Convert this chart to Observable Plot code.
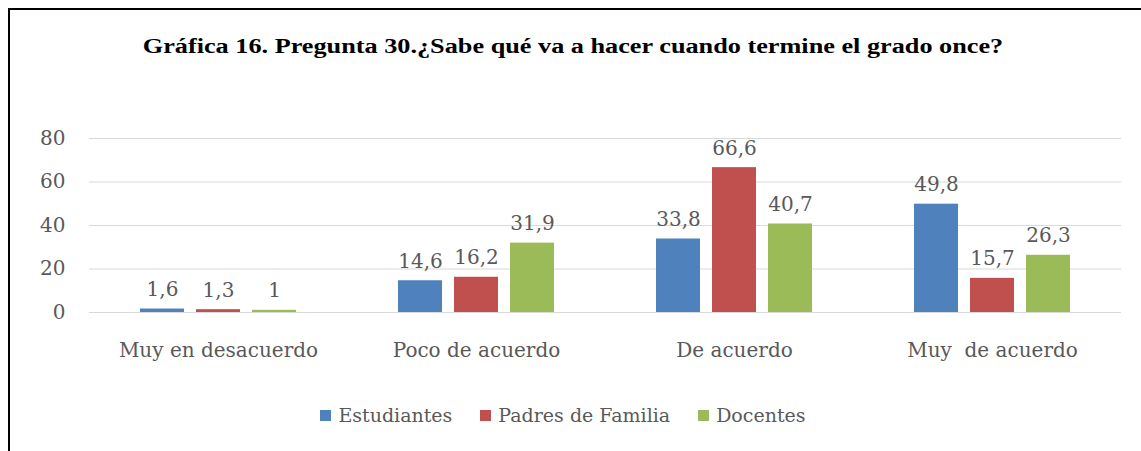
<!DOCTYPE html>
<html>
<head>
<meta charset="utf-8">
<script src="https://cdn.jsdelivr.net/npm/d3@7"></script>
<script src="https://cdn.jsdelivr.net/npm/@observablehq/plot@0.6"></script>
<style>
  html, body { margin: 0; padding: 0; background: #fff; }
  #wrap { position: relative; width: 1141px; height: 451px; overflow: hidden; background: #fff; }
  #frame { position: absolute; left: 8px; top: 8px; right: -10px; bottom: -10px;
           border-top: 2.5px solid #000; border-left: 2.5px solid #000; }
  #title { position: absolute; left: 0; width: 1146px; top: 35px; text-align: center;
           font-family: "Liberation Serif", serif; font-weight: bold; font-size: 20.5px; color: #000;
           transform: scaleX(1.28); transform-origin: 573px 0; }
  #chart { position: absolute; left: 0; top: 0; }
  #legend { position: absolute; left: 0; width: 1126px; top: 404px; display: flex; justify-content: center;
            font-family: "DejaVu Serif", serif; font-size: 19px; color: #595959; }
  .item { display: flex; align-items: center; margin: 0 14px; }
  .sw { width: 11px; height: 11px; margin-right: 7px; }
  svg text { white-space: pre; }
</style>
</head>
<body>
<div id="wrap">
  <div id="frame"></div>
  <div id="title">Gráfica 16. Pregunta 30.¿Sabe qué va a hacer cuando termine el grado once?</div>
  <div id="chart"></div>
  <div id="legend"></div>
</div>
<script>
const categories = ["Muy en desacuerdo", "Poco de acuerdo", "De acuerdo", "Muy  de acuerdo"];
const series = ["Estudiantes", "Padres de Familia", "Docentes"];
const estudiantes = [1.6, 14.6, 33.8, 49.8];
const padres = [1.3, 16.2, 66.6, 15.7];
const docentes = [1, 31.9, 40.7, 26.3];
const colors = ["#4F81BD", "#C0504D", "#9BBB59"];
const yTicks = [0, 20, 40, 60, 80];

const valuesBySeries = [estudiantes, padres, docentes];
const data = [];
categories.forEach((c, i) => {
  series.forEach((s, j) => {
    data.push({category: c, series: s, value: valuesBySeries[j][i]});
  });
});
const fmt = v => String(v).replace(".", ",");

const chart = Plot.plot({
  width: 1141,
  height: 390,
  marginLeft: 89,
  marginRight: 20,
  marginTop: 138,
  marginBottom: 78,
  style: {fontFamily: "DejaVu Serif", fontSize: "20px", color: "#595959", background: "transparent", overflow: "visible"},
  fx: {domain: categories, padding: 0, label: null},
  x: {domain: series, paddingInner: 0.21, paddingOuter: 0.87, axis: null},
  y: {domain: [0, 80], label: null},
  color: {domain: series, range: colors},
  marks: [
    Plot.gridY(yTicks, {stroke: "#d9d9d9", strokeOpacity: 1, strokeWidth: 1}),
    Plot.axisY(yTicks, {tickSize: 0, tickPadding: 24, label: null, fontSize: 20}),
    Plot.axisFx({anchor: "bottom", tickSize: 0, tickPadding: 30, label: null, fontSize: 20}),
    Plot.barY(data, {fx: "category", x: "series", y: "value", fill: "series"}),
    Plot.text(data, {fx: "category", x: "series", y: "value", text: d => fmt(d.value),
      lineAnchor: "bottom", dy: -13, fill: "#595959", fontSize: 20})
  ]
});
document.getElementById("chart").appendChild(chart);

const legend = document.getElementById("legend");
series.forEach((s, j) => {
  const it = document.createElement("div");
  it.className = "item";
  const sw = document.createElement("span");
  sw.className = "sw";
  sw.style.background = colors[j];
  const tx = document.createElement("span");
  tx.textContent = s;
  it.appendChild(sw);
  it.appendChild(tx);
  legend.appendChild(it);
});
</script>
</body>
</html>
